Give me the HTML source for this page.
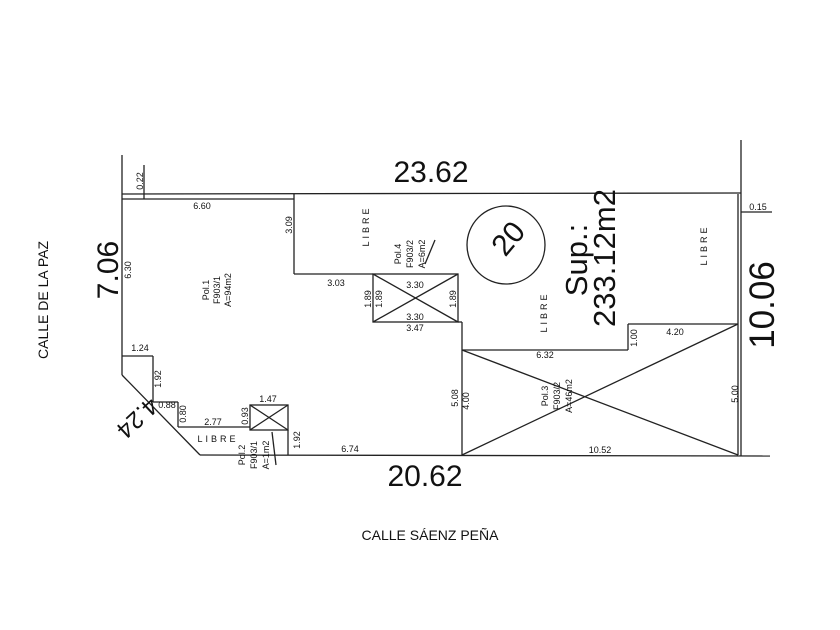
<!DOCTYPE html>
<html><head><style>
html,body{margin:0;padding:0;background:#fff;}
svg{display:block;font-family:"Liberation Sans",Arial,sans-serif;}
</style></head><body>
<svg width="840" height="630" viewBox="0 0 840 630" xmlns="http://www.w3.org/2000/svg">
<g fill="none" stroke="#222" stroke-width="1.3">
<line x1="122" y1="194" x2="741" y2="193"/>
<line x1="122" y1="199" x2="294" y2="199"/>
<line x1="122" y1="155" x2="122" y2="375"/>
<line x1="144" y1="165" x2="144" y2="199"/>
<line x1="741" y1="140" x2="741" y2="456"/>
<line x1="738" y1="194" x2="738" y2="455"/>
<line x1="741" y1="212" x2="772" y2="212"/>
<line x1="294" y1="194" x2="294" y2="274"/>
<line x1="294" y1="274" x2="373" y2="274"/>
<rect x="373" y="274" width="85" height="48"/>
<line x1="373" y1="274" x2="458" y2="322"/>
<line x1="373" y1="322" x2="458" y2="274"/>
<line x1="458" y1="322" x2="462" y2="322"/>
<line x1="462" y1="322" x2="462" y2="455"/>
<line x1="462" y1="350" x2="628" y2="350"/>
<line x1="628" y1="350" x2="628" y2="324"/>
<line x1="628" y1="324" x2="738" y2="324"/>
<line x1="462" y1="350" x2="738" y2="455"/>
<line x1="462" y1="455" x2="738" y2="324"/>
<line x1="200" y1="455" x2="770" y2="456"/>
<line x1="122" y1="356" x2="153" y2="356"/>
<line x1="153" y1="356" x2="153" y2="402"/>
<line x1="122" y1="375" x2="200" y2="455"/>
<line x1="153" y1="402" x2="178" y2="402"/>
<line x1="178" y1="402" x2="178" y2="427"/>
<line x1="178" y1="427" x2="250" y2="427"/>
<rect x="250" y="405" width="38" height="25"/>
<line x1="250" y1="405" x2="288" y2="430"/>
<line x1="250" y1="430" x2="288" y2="405"/>
<line x1="288" y1="430" x2="288" y2="455"/>
<line x1="272" y1="432" x2="276" y2="465"/>
<line x1="425" y1="264" x2="435" y2="240"/>
<circle cx="506" cy="245" r="39"/>
</g>
<g fill="#111">
<text x="431" y="182" font-size="30" text-anchor="middle">23.62</text>
<text x="425" y="486" font-size="30" text-anchor="middle">20.62</text>
<text transform="translate(118,270) rotate(-90)" font-size="30" text-anchor="middle">7.06</text>
<text transform="translate(774,305) rotate(-90)" font-size="35" text-anchor="middle">10.06</text>
<text transform="translate(132,412) rotate(137)" font-size="24" text-anchor="middle">4.24</text>
<text transform="translate(516,245) rotate(-50)" font-size="30" text-anchor="middle">20</text>
<text transform="translate(587,260) rotate(-90)" font-size="31" text-anchor="middle">Sup.:</text>
<text transform="translate(615,258) rotate(-90)" font-size="31" text-anchor="middle">233.12m2</text>
<text transform="translate(48,300) rotate(-90)" font-size="14" text-anchor="middle">CALLE DE LA PAZ</text>
<text x="430" y="540" font-size="14" text-anchor="middle">CALLE SÁENZ PEÑA</text>
<g font-size="9">
<text x="202" y="209" text-anchor="middle">6.60</text>
<text x="336" y="286" text-anchor="middle">3.03</text>
<text x="415" y="288" text-anchor="middle">3.30</text>
<text x="415" y="320" text-anchor="middle">3.30</text>
<text x="415" y="331" text-anchor="middle">3.47</text>
<text x="140" y="351" text-anchor="middle">1.24</text>
<text x="167" y="408" text-anchor="middle">0.88</text>
<text x="213" y="425" text-anchor="middle">2.77</text>
<text x="268" y="402" text-anchor="middle">1.47</text>
<text x="350" y="452" text-anchor="middle">6.74</text>
<text x="545" y="358" text-anchor="middle">6.32</text>
<text x="675" y="335" text-anchor="middle">4.20</text>
<text x="600" y="453" text-anchor="middle">10.52</text>
<text x="758" y="210" text-anchor="middle">0.15</text>
<text transform="translate(143,181) rotate(-90)" text-anchor="middle">0.22</text>
<text transform="translate(131,270) rotate(-90)" text-anchor="middle">6.30</text>
<text transform="translate(292,225) rotate(-90)" text-anchor="middle">3.09</text>
<text transform="translate(371,299) rotate(-90)" text-anchor="middle">1.89</text>
<text transform="translate(382,299) rotate(-90)" text-anchor="middle">1.89</text>
<text transform="translate(456,299) rotate(-90)" text-anchor="middle">1.89</text>
<text transform="translate(161,379) rotate(-90)" text-anchor="middle">1.92</text>
<text transform="translate(186,414) rotate(-90)" text-anchor="middle">0.80</text>
<text transform="translate(248,416) rotate(-90)" text-anchor="middle">0.93</text>
<text transform="translate(300,440) rotate(-90)" text-anchor="middle">1.92</text>
<text transform="translate(458,398) rotate(-90)" text-anchor="middle">5.08</text>
<text transform="translate(469,401) rotate(-90)" text-anchor="middle">4.00</text>
<text transform="translate(637,338) rotate(-90)" text-anchor="middle">1.00</text>
<text transform="translate(738,394) rotate(-90)" text-anchor="middle">5.00</text>
<text transform="translate(209,290) rotate(-90)" text-anchor="middle">Pol.1</text>
<text transform="translate(220,290) rotate(-90)" text-anchor="middle">F903/1</text>
<text transform="translate(231,290) rotate(-90)" text-anchor="middle">A=94m2</text>
<text transform="translate(401,254) rotate(-90)" text-anchor="middle">Pol.4</text>
<text transform="translate(413,254) rotate(-90)" text-anchor="middle">F903/2</text>
<text transform="translate(425,254) rotate(-90)" text-anchor="middle">A=6m2</text>
<text transform="translate(548,396) rotate(-90)" text-anchor="middle">Pol.3</text>
<text transform="translate(560,396) rotate(-90)" text-anchor="middle">F903/2</text>
<text transform="translate(572,396) rotate(-90)" text-anchor="middle">A=46m2</text>
<text transform="translate(245,455) rotate(-90)" text-anchor="middle">Pol.2</text>
<text transform="translate(257,455) rotate(-90)" text-anchor="middle">F903/1</text>
<text transform="translate(269,455) rotate(-90)" text-anchor="middle">A=1m2</text>
<text transform="translate(369,226) rotate(-90)" text-anchor="middle" letter-spacing="3">LIBRE</text>
<text transform="translate(547,312) rotate(-90)" text-anchor="middle" letter-spacing="3">LIBRE</text>
<text transform="translate(707,245) rotate(-90)" text-anchor="middle" letter-spacing="3">LIBRE</text>
<text x="218" y="442" text-anchor="middle" letter-spacing="3">LIBRE</text>
</g>
</g>
</svg>
</body></html>
